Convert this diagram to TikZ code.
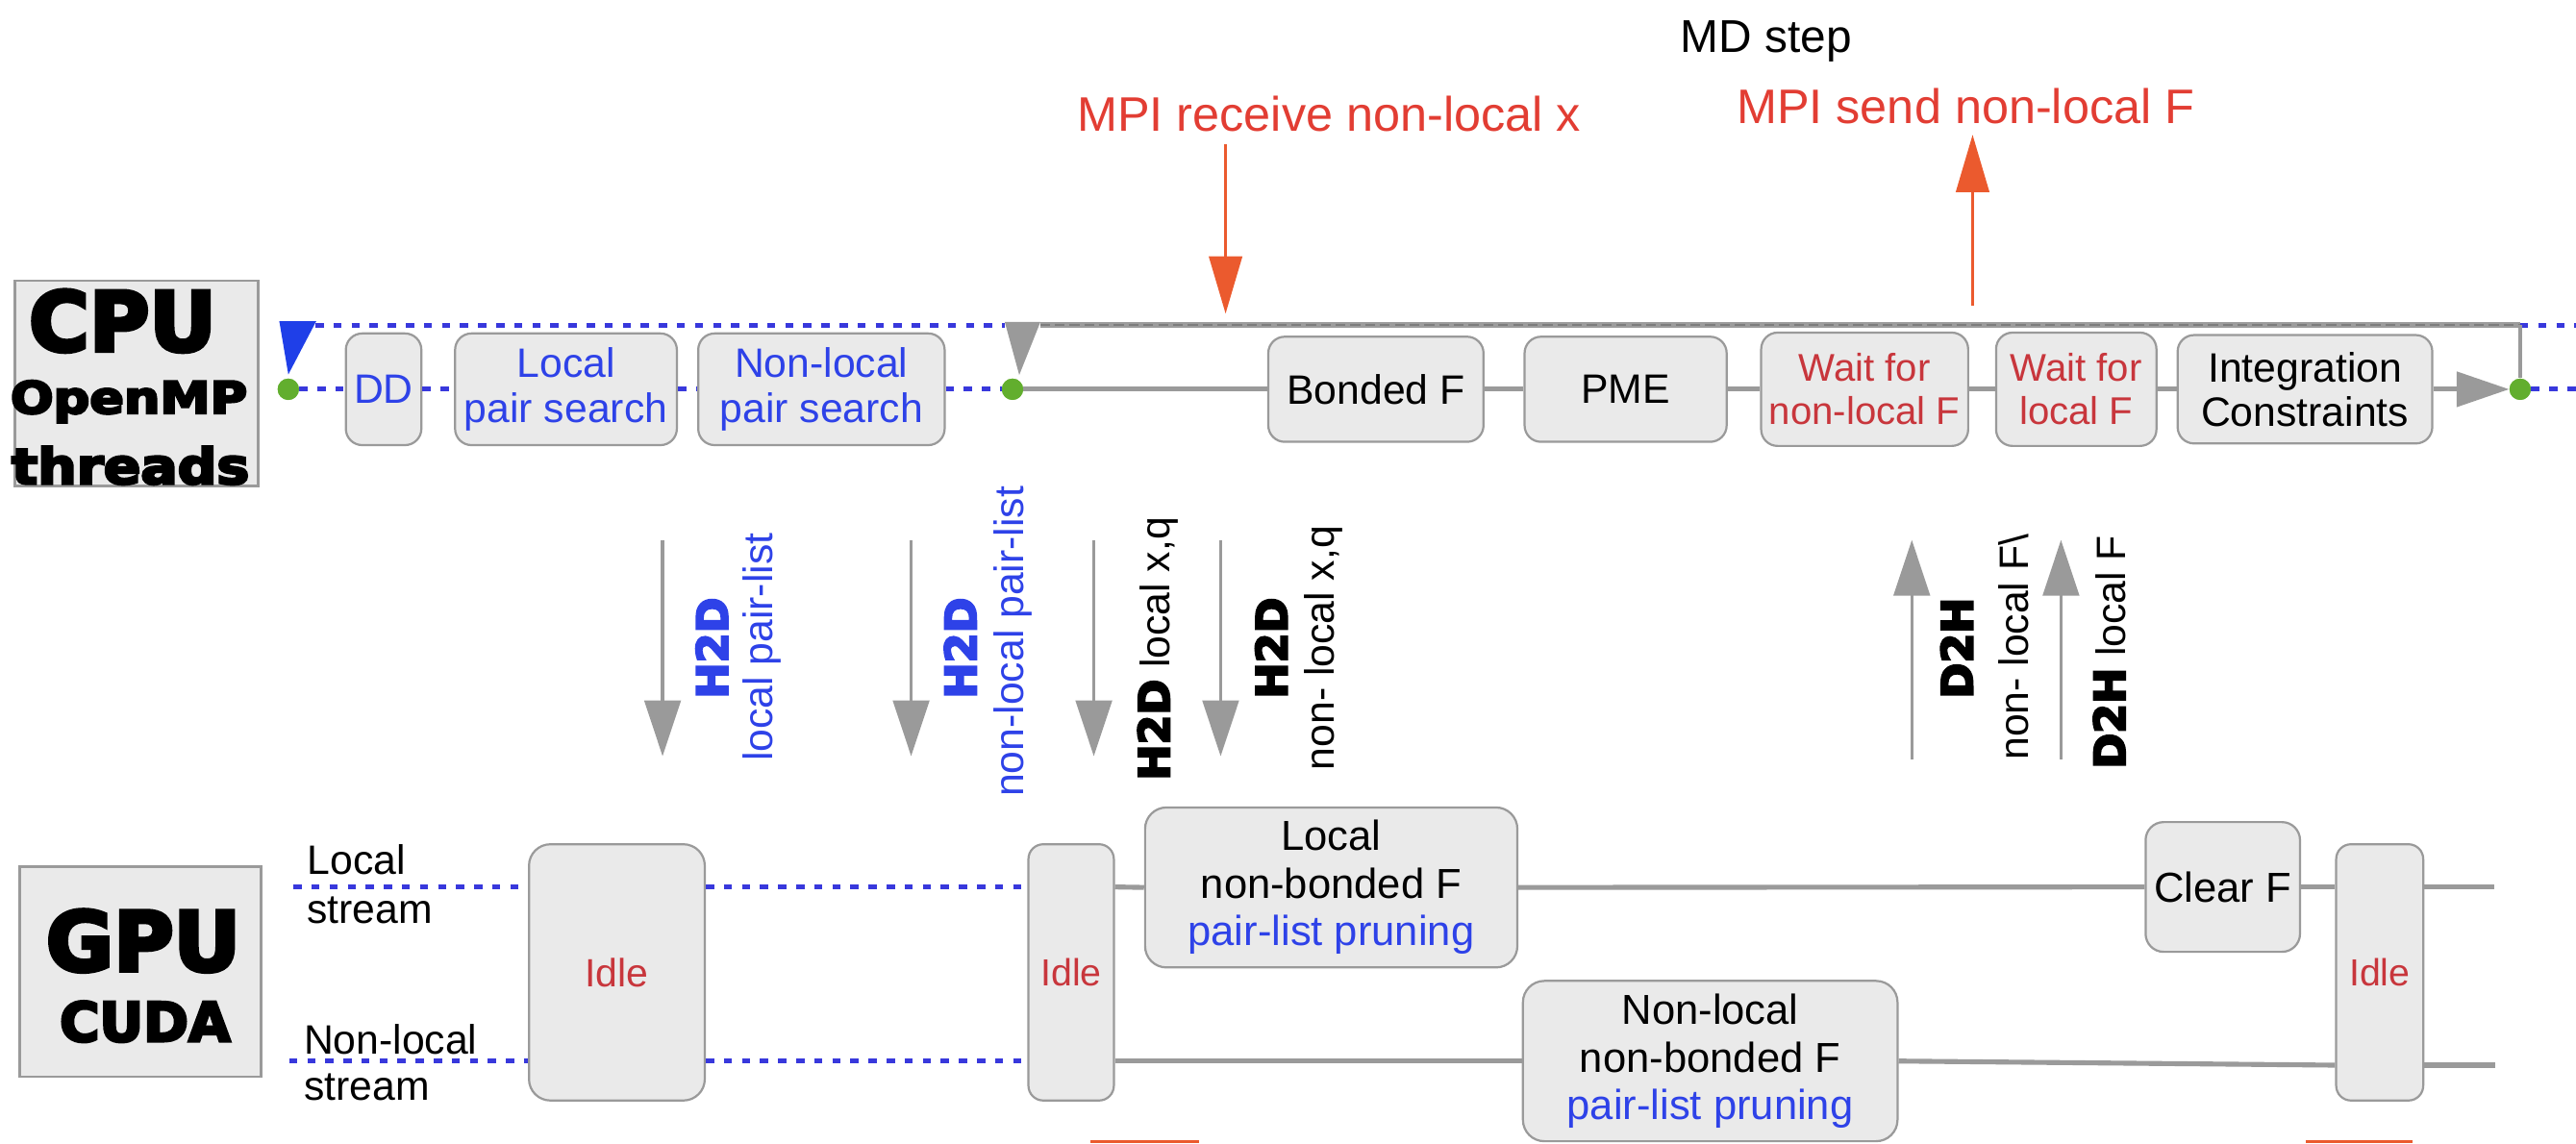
\documentclass[tikz,border=0pt]{standalone}
\usepackage{graphicx}
\usepackage{fontspec}
\setmainfont{Liberation Sans}
\newfontfamily\heavyfont{DejaVu Sans}[BoldFeatures={FakeBold=5}]
\usetikzlibrary{arrows.meta}

\newcommand\fs[2]{\fontsize{#1}{#2}\selectfont}
\newcommand\heavytxt{\heavyfont\bfseries}

\definecolor{boxfill}{HTML}{EAEAEA}
\definecolor{boxline}{HTML}{9A9A9A}
\definecolor{lanegray}{HTML}{9A9A9A}
\definecolor{topgray}{HTML}{9C9C9C}
\definecolor{tblue}{HTML}{2E42E8}
\definecolor{dblue}{HTML}{3838DC}
\definecolor{mpired}{HTML}{E23D33}
\definecolor{arrred}{HTML}{EB5A2E}
\definecolor{waitred}{HTML}{C8363C}
\definecolor{dotgreen}{HTML}{62AE2E}
\definecolor{trigblue}{HTML}{1F3FE8}

\tikzset{
  box/.style={draw=boxline, fill=boxfill, line width=1.3pt, rounded corners=10pt,
    inner sep=0pt, align=center, font=\fs{25}{27}},
  labelbox/.style={draw=boxline, fill=boxfill, line width=1.5pt, inner sep=0pt},
  bdot/.style={dblue, line width=3pt, dash pattern=on 5pt off 6pt},
  gline/.style={lanegray, line width=3pt},
  topline/.style={topgray, line width=3.5pt},
  gdot/.style={circle, fill=dotgreen, inner sep=0pt, minimum size=13pt},
  garrow/.style={lanegray, line width=2pt, -{Triangle[length=34pt,width=22pt]}},
  gtip/.style={lanegray, line width=3pt, -{Triangle[length=32pt,width=21pt]}},
  rarrow/.style={arrred, line width=2.2pt, -{Triangle[length=35pt,width=20pt]}},
  vtext/.style={rotate=90, inner sep=0pt, font=\fs{25}{27}},
  htext/.style={inner sep=0pt, font=\fs{25}{27}, anchor=base west},
  heavy/.style={inner sep=0pt, anchor=base, text=black},
}

\begin{document}
\begin{tikzpicture}[x=1pt,y=-1pt]
\useasboundingbox (0,0) rectangle (1568,696);

% ---------- headings and MPI communication ----------
\node[inner sep=0pt, anchor=base, font=\fs{28}{30}] (mdstep) at (1075,32) {MD step};
\node[inner sep=0pt, anchor=base, font=\fs{29.5}{31}, text=mpired] (mpirecv) at (809,80) {MPI receive non-local x};
\node[inner sep=0pt, anchor=base, font=\fs{29.5}{31}, text=mpired] (mpisend) at (1196.5,75) {MPI send non-local F};
\coordinate (rv0) at (746,88);
\coordinate (rv1) at (746,191);
\coordinate (sd0) at (1200.7,186);
\coordinate (sd1) at (1200.7,82);
\draw[rarrow] (rv0) -- (rv1);
\draw[rarrow] (sd0) -- (sd1);

% ---------- CPU label ----------
\node[labelbox, minimum width=148pt, minimum height=125pt] (cpubox) at (83,233.5) {};
\node[heavy, font=\heavytxt\fs{50}{52}] (cpu) at (74.6,213.6) {CPU};
\node[heavy, font=\heavytxt\fs{27}{29}] (openmp) at (78.5,251.7) {\scalebox{1.14}[1]{OpenMP}};
\node[heavy, font=\heavytxt\fs{30}{32}] (threads) at (79.4,294.6) {\scalebox{1.11}[1]{threads}};

% ---------- CPU timeline ----------
\node[gdot] (g1) at (175.5,237) {};
\node[gdot] (g2) at (616.3,237) {};
\node[gdot] (g3) at (1534,237) {};
\coordinate (tbA) at (192,198);
\coordinate (tbB) at (611.6,198);
\coordinate (tgA) at (633,198);
\coordinate (tgB) at (1534,198);
\coordinate (tend) at (1568,198);
\coordinate (mend) at (1568,237);

\node[box, text=tblue, minimum width=46pt, minimum height=68pt] (dd) at (233.5,237) {DD};
\node[box, text=tblue, minimum width=135pt, minimum height=68pt] (lps) at (344.5,237) {Local\\pair search};
\node[box, text=tblue, minimum width=150pt, minimum height=68pt] (nlps) at (500,237) {Non-local\\pair search};
\node[box, minimum width=131pt, minimum height=64pt] (bonded) at (837.5,237) {Bonded F};
\node[box, minimum width=123pt, minimum height=64pt] (pme) at (989.5,237) {PME};
\node[box, text=waitred, font=\fs{23.5}{26.5}, minimum width=126pt, minimum height=69pt] (wnl) at (1135,237) {Wait for\\non-local F};
\node[box, text=waitred, font=\fs{23.5}{26.5}, minimum width=97.6pt, minimum height=69pt] (wl) at (1263.8,237) {Wait for\\local F};
\node[box, minimum width=155pt, minimum height=66pt] (integ) at (1403,237) {Integration\\Constraints};

% upper line of the step
\draw[bdot] (tbA) -- (tbB);
\draw[topline] (tgA) -- (tgB);
\draw[topgray!80!black, line width=1.4pt, dash pattern=on 6pt off 3pt] (tgA) -- (tgB);
\draw[bdot] (tgB) -- (tend);
\draw[lanegray, line width=2.5pt] (tgB) -- (g3);
\fill[trigblue] (170,195.5) -- (192.5,195.5) -- (175.5,228) -- cycle;
\fill[lanegray] (611.6,196) -- (633.3,196) -- (620.4,228.3) -- cycle;

% lower line of the step
\draw[bdot] (g1) -- (dd);
\draw[bdot] (dd) -- (lps);
\draw[bdot] (lps) -- (nlps);
\draw[bdot] (nlps) -- (g2);
\draw[gline] (g2) -- (bonded);
\draw[gline] (bonded) -- (pme);
\draw[gline] (pme) -- (wnl);
\draw[gline] (wnl) -- (wl);
\draw[gline] (wl) -- (integ);
\draw[gtip] (integ) -- (g3);
\draw[bdot] (g3) -- (mend);
\node[gdot] at (g1) {};
\node[gdot] at (g2) {};
\node[gdot] at (g3) {};

% ---------- host/device transfers ----------
\coordinate (a1s) at (403.3,328.7);  \coordinate (a1e) at (403.3,460.4);
\coordinate (a2s) at (554.6,328.7);  \coordinate (a2e) at (554.6,460.4);
\coordinate (a3s) at (665.8,328.7);  \coordinate (a3e) at (665.8,460.4);
\coordinate (a4s) at (743,328.7);    \coordinate (a4e) at (743,460.4);
\coordinate (u1s) at (1163.7,462.4); \coordinate (u1e) at (1163.7,328.7);
\coordinate (u2s) at (1254.5,462.4); \coordinate (u2e) at (1254.5,328.7);
\draw[garrow] (a1s) -- (a1e);
\draw[garrow] (a2s) -- (a2e);
\draw[garrow] (a3s) -- (a3e);
\draw[garrow] (a4s) -- (a4e);
\draw[garrow] (u1s) -- (u1e);
\draw[garrow] (u2s) -- (u2e);

\node[vtext, text=tblue, font=\heavytxt\fs{26}{28}] (h1) at (433.3,394.5) {H2D};
\node[vtext, text=tblue] (t1) at (463.8,394) {local pair-list};
\node[vtext, text=tblue, font=\heavytxt\fs{26}{28}] (h2) at (584.5,394.5) {H2D};
\node[vtext, text=tblue] (t2) at (616.3,390.6) {non-local pair-list};
\node[vtext] (t3) at (704.8,395) {{\heavytxt\fs{26}{28}H2D} local x,q};
\node[vtext, font=\heavytxt\fs{26}{28}] (h4) at (773.8,394.5) {H2D};
\node[vtext] (t4) at (805.8,394.5) {non- local x,q};
\node[vtext, font=\heavytxt\fs{26}{28}] (d1) at (1191,394.5) {D2H};
\node[vtext] (t5) at (1226,394) {non- local F\textbackslash};
\node[vtext] (t6) at (1284,397) {{\heavytxt\fs{26}{28}D2H} local F};

% ---------- GPU label ----------
\node[labelbox, minimum width=147pt, minimum height=128pt] (gpubox) at (85.5,591.6) {};
\node[heavy, font=\heavytxt\fs{50}{52}] (gpu) at (87.2,591) {GPU};
\node[heavy, font=\heavytxt\fs{33}{35}] (cuda) at (88.3,634) {CUDA};

\node[htext] (lsa) at (186.8,532.6) {Local};
\node[htext] (lsb) at (186.8,561.9) {stream};
\node[htext] (nsa) at (184.8,641.9) {Non-local};
\node[htext] (nsb) at (184.8,670) {stream};

% ---------- GPU streams ----------
\node[box, text=waitred, font=\fs{24}{26}, rounded corners=13pt, minimum width=107pt, minimum height=156pt] (idle1) at (375.5,592) {Idle};
\node[box, text=waitred, font=\fs{23}{26}, rounded corners=9pt, minimum width=52pt, minimum height=156pt] (idle2) at (652,592) {Idle};
\node[box, text=waitred, font=\fs{23}{26}, rounded corners=9pt, minimum width=53pt, minimum height=156pt] (idle3) at (1448.5,592) {Idle};
\node[box, font=\fs{25.5}{29}, rounded corners=13pt, minimum width=226.6pt, minimum height=97.4pt] (lnb) at (810.3,540.3) {Local\\non-bonded F\\\textcolor{tblue}{pair-list pruning}};
\node[box, font=\fs{25.5}{29}, rounded corners=11pt, minimum width=94pt, minimum height=79pt] (clearf) at (1353,540) {Clear F};
\node[box, font=\fs{25.5}{29}, rounded corners=13pt, minimum width=228pt, minimum height=97.6pt] (nlnb) at (1041,646) {Non-local\\non-bonded F\\\textcolor{tblue}{pair-list pruning}};

\coordinate (ls) at (178.6,540);
\coordinate (le) at (1518,540);
\coordinate (ns) at (176,646);
\coordinate (ne) at (1519,648.5);

\draw[bdot] (ls) -- (ls -| idle1.west);
\draw[bdot] (ls -| idle1.east) -- (ls -| idle2.west);
\draw[gline] (ls -| idle2.east) -- (lnb.west);
\draw[gline] (lnb.east) -- (clearf.west);
\draw[gline] (clearf.east) -- (ls -| idle3.west);
\draw[gline] (ls -| idle3.east) -- (le);

\draw[bdot] (ns) -- (ns -| idle1.west);
\draw[bdot] (ns -| idle1.east) -- (ns -| idle2.west);
\draw[gline] (ns -| idle2.east) -- (nlnb.west);
\draw[gline] (nlnb.east) -- (ne -| idle3.west);
\draw[gline] (ne -| idle3.east) -- (ne);

% marks on the lower edge
\draw[arrred, line width=2pt] (664,695) -- (730,695);
\draw[arrred, line width=2pt] (1403.5,695) -- (1468.5,695);
\end{tikzpicture}
\end{document}
